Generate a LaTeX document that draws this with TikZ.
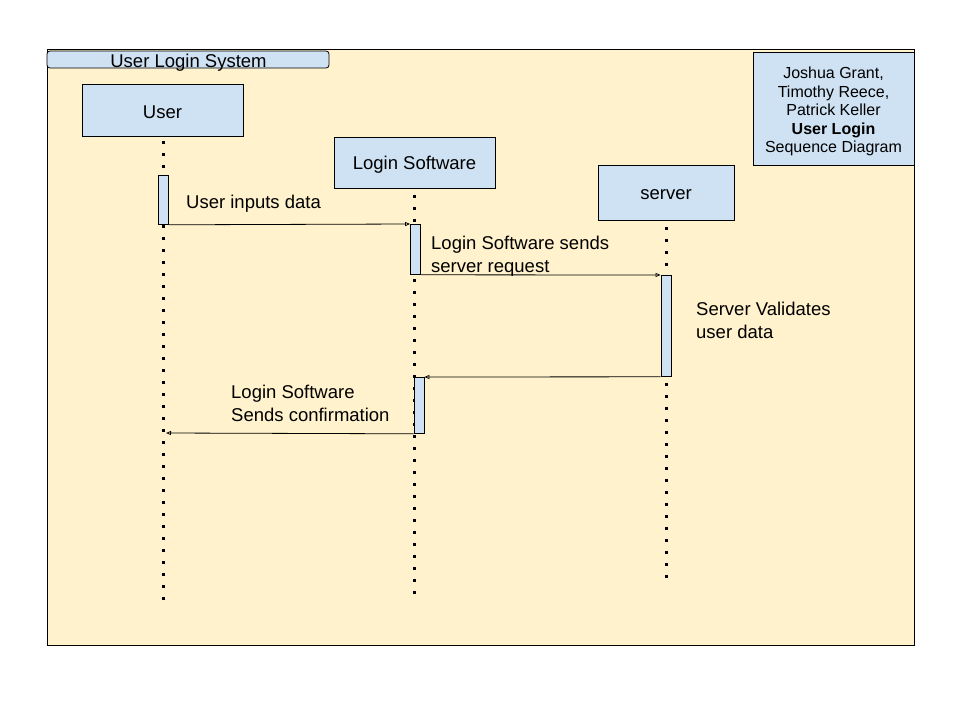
\documentclass[tikz,border=0pt]{standalone}
\usepackage{fontspec}
\setmainfont{Liberation Sans}
\usetikzlibrary{arrows.meta,positioning}
\definecolor{framefill}{HTML}{FFF2CC}
\definecolor{boxfill}{HTML}{CFE2F3}
\tikzset{
  sd frame/.style={
    draw=black,
    line width=0.8pt,
    fill=framefill,
  },
  sd tab/.style={
    draw=black,
    line width=0.8pt,
    fill=boxfill,
    rounded corners=3pt,
  },
  sd object/.style={
    rectangle,
    draw=black,
    line width=0.8pt,
    fill=boxfill,
    inner sep=0pt,
  },
  sd act/.style={
    rectangle,
    draw=black,
    line width=0.8pt,
    fill=boxfill,
    minimum width=10pt,
    inner sep=0pt,
    anchor=north,
  },
  sd life/.style={line width=2.6pt, dash pattern=on 2.6pt off 9.4pt},
  sd msg/.style={-{Triangle[open,length=5pt,width=4pt]}, line width=0.8pt},
  sd label/.style={font=\fontsize{18.5}{23}\selectfont, align=left, anchor=west, inner sep=0pt},
  sd text/.style={font=\fontsize{18.5}{22}\selectfont, inner sep=0pt, yshift=-2.5pt},
  sd note text/.style={font=\fontsize{16}{18.6}\selectfont, align=center, inner sep=0pt, yshift=-3pt},
}
\begin{document}
\begin{tikzpicture}[x=1pt,y=-1pt]
  \useasboundingbox (0,0) rectangle (960,720);
  \fill[white] (0,0) rectangle (960,720);
  \draw[sd frame] (47,49) rectangle (914,645);
  \draw[sd tab] (47,51) rectangle (329,68);
  \node[sd text] (title) at (188.5,60) {User Login System};

  % objects
  \node[sd object,minimum width=161pt,minimum height=52pt] (user) at (162.5,110) {};
  \node[sd text] (user text) at (user.center) {User};
  \node[sd object,minimum width=161pt,minimum height=51pt] (login) at (414.5,162.5) {};
  \node[sd text] (login text) at (login.center) {Login Software};
  \node[sd object,minimum width=136pt,minimum height=55pt] (server) at (666,192.5) {};
  \node[sd text] (server text) at (server.center) {server};
  \node[sd object,minimum width=161pt,minimum height=113pt] (note) at (833.5,108.5) {};
  \node[sd note text] (note text) at (note.center) {Joshua Grant,\\Timothy Reece,\\Patrick Keller\\\textbf{User Login}\\Sequence Diagram};

  % lifelines
  \coordinate (user top) at (163.5,141);
  \coordinate (user end) at (163.5,600);
  \coordinate (login top) at (414.5,195);
  \coordinate (login end) at (414.5,594);
  \coordinate (server top) at (666.5,227);
  \coordinate (server end) at (666.5,578);
  \draw[sd life] (user top) -- (user end);
  \draw[sd life] (login top) -- (login end);
  \draw[sd life] (server top) -- (server end);

  % activations
  \node[sd act,minimum height=49pt] (user act) at (163.5,175) {};
  \node[sd act,minimum height=50pt] (login act) at (415.5,224) {};
  \node[sd act,minimum height=101pt] (server act) at (666,275) {};
  \node[sd act,minimum height=56pt] (login act2) at (419,377) {};
  \coordinate (user back) at (166,433);

  % messages
  \draw[sd msg] (user act.south east) -- (login act.north west);
  \draw[sd msg] (login act.south east) -- (server act.north west);
  \draw[sd msg] (server act.south west) -- (login act2.north east);
  \draw[sd msg] (login act2.south west) -- (user back);

  \node[sd label] (m1) at (186,203.5) {User inputs data};
  \node[sd label] (m2) at (431,256) {Login Software sends\\server request};
  \node[sd label] (m3) at (696,320.5) {Server Validates\\user data};
  \node[sd label] (m4) at (231,403.5) {Login Software\\Sends confirmation};
\end{tikzpicture}
\end{document}
